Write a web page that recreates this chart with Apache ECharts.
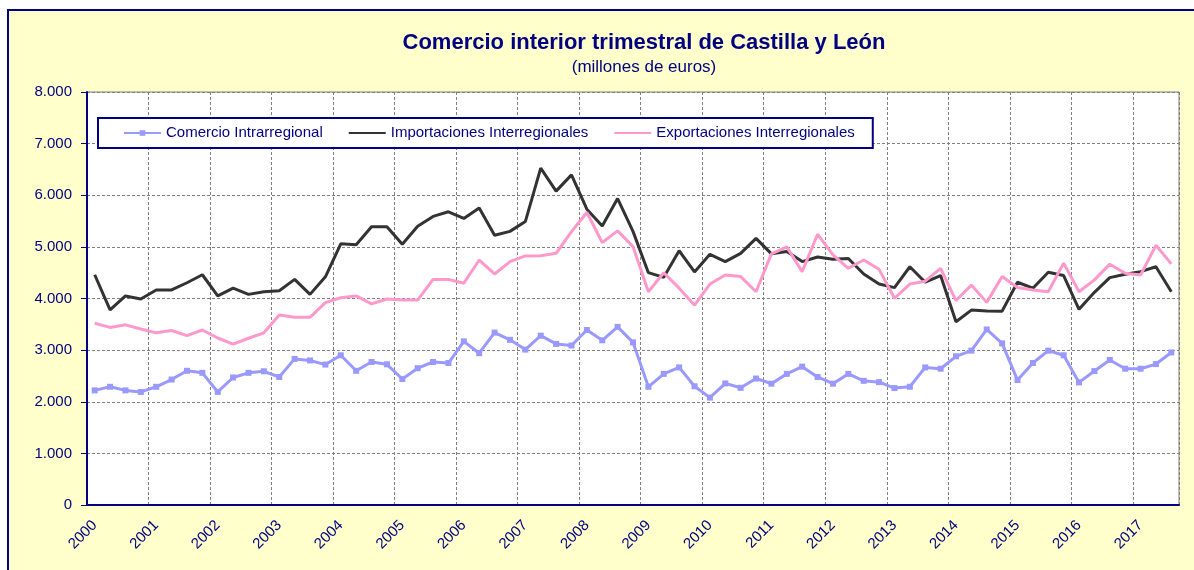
<!DOCTYPE html>
<html>
<head>
	<meta charset="utf-8"/>
	<title>Comercio interior trimestral de Castilla y León</title>
	<script src="https://cdn.jsdelivr.net/npm/echarts/dist/echarts.min.js"></script>
	<style>
		html, body { margin: 0; padding: 0; background: #fff; }
		#grafico { width: 1194px; height: 570px; }
	</style>
</head>
<body>
<div id="grafico"></div>
<script type="text/javascript">
    // años y trimestres del eje X (2000 T1 .. 2017 T3)
    var anios = ['2000','2001','2002','2003','2004','2005','2006','2007','2008',
                 '2009','2010','2011','2012','2013','2014','2015','2016','2017'];
    var trimestres = ['T1','T2','T3','T4'];
    var numTrimestres = 71;

    // millones de euros
    var comercioIntrarregional = [
        2220, 2290, 2220, 2190,
        2290, 2430, 2600, 2560,
        2190, 2470, 2560, 2590,
        2480, 2830, 2800, 2720,
        2900, 2600, 2770, 2725,
        2440, 2650, 2770, 2750,
        3170, 2940, 3340, 3200,
        3010, 3280, 3120, 3090,
        3390, 3190, 3450, 3150,
        2290, 2540, 2665, 2300,
        2080, 2355, 2270, 2450,
        2350, 2540, 2680, 2480,
        2350, 2540, 2405, 2380,
        2265, 2290, 2665, 2640,
        2880, 2990, 3400, 3130,
        2420, 2750, 2990, 2900,
        2375, 2595, 2810, 2640,
        2640, 2730, 2955
    ];
    var importacionesInterregionales = [
        4460, 3780, 4050, 3990,
        4165, 4165, 4305, 4460,
        4050, 4200, 4080, 4130,
        4150, 4370, 4080, 4420,
        5060, 5040, 5390, 5390,
        5050, 5400, 5590, 5680,
        5550, 5755, 5225, 5300,
        5490, 6525, 6080, 6395,
        5730, 5405, 5935, 5300,
        4500, 4410, 4925, 4515,
        4855, 4715, 4875, 5165,
        4865, 4910, 4715, 4805,
        4760, 4775, 4475, 4280,
        4210, 4615, 4315, 4445,
        3550, 3775, 3760, 3755,
        4315, 4200, 4510, 4445,
        3790, 4120, 4405, 4470,
        4520, 4615, 4130
    ];
    var exportacionesInterregionales = [
        3520, 3440, 3490, 3410,
        3335, 3380, 3280, 3390,
        3235, 3115, 3230, 3335,
        3680, 3635, 3635, 3920,
        4015, 4050, 3895, 3990,
        3970, 3970, 4370, 4370,
        4295, 4745, 4475, 4715,
        4825, 4830, 4875, 5295,
        5665, 5085, 5310, 5005,
        4130, 4500, 4200, 3870,
        4280, 4455, 4425, 4130,
        4865, 5000, 4520, 5245,
        4845, 4585, 4745, 4565,
        4005, 4280, 4335, 4585,
        3960, 4260, 3925, 4425,
        4215, 4165, 4130, 4685,
        4130, 4360, 4665, 4490,
        4455, 5030, 4670
    ];

    var categorias = [];
    for (var a = 0; a < anios.length; a++) {
        for (var t = 0; t < trimestres.length; t++) {
            if (categorias.length < numTrimestres) {
                categorias.push(anios[a] + ' ' + trimestres[t]);
            }
        }
    }

    var azulOscuro = '#000080';
    var fuente = '"Liberation Sans", Arial, sans-serif';

    // separador de miles con punto: 8.000
    function miles(v) {
        if (v === 0) return '0';
        var s = String(v);
        return s.slice(0, s.length - 3) + '.' + s.slice(s.length - 3);
    }

    // en la leyenda las series sin marcador solo llevan la linea
    var sinMarcador = { color: 'rgba(0,0,0,0)', borderWidth: 0, opacity: 0 };

    var dom = document.getElementById("grafico");
    var myChart = echarts.init(dom);
    var option = null;
    option = {
        animation: false,
        backgroundColor: '#ffffff',
        textStyle: { fontFamily: fuente },
        graphic: [
            {
                type: 'rect', z: -10, silent: true,
                shape: { x: 8, y: 10, width: 1200, height: 580 },
                style: { fill: '#FFFFCC', stroke: azulOscuro, lineWidth: 2 }
            },
            {
                type: 'text', x: 644, y: 43, silent: true,
                style: {
                    text: 'Comercio interior trimestral de Castilla y León',
                    fill: azulOscuro, fontFamily: fuente, fontSize: 22, fontWeight: 'bold',
                    align: 'center', verticalAlign: 'middle'
                }
            },
            {
                type: 'text', x: 644, y: 67, silent: true,
                style: {
                    text: '(millones de euros)',
                    fill: azulOscuro, fontFamily: fuente, fontSize: 17,
                    align: 'center', verticalAlign: 'middle'
                }
            }
        ],
        legend: {
            left: 98,
            top: 118,
            padding: [7, 18, 7, 25],
            itemWidth: 37,
            itemHeight: 7,
            itemGap: 25,
            backgroundColor: '#ffffff',
            borderColor: azulOscuro,
            borderWidth: 2,
            borderRadius: 0,
            textStyle: { color: azulOscuro, fontSize: 15, fontFamily: fuente, lineHeight: 16 },
            data: [
                { name: 'Comercio Intrarregional' },
                { name: 'Importaciones Interregionales', itemStyle: sinMarcador },
                { name: 'Exportaciones Interregionales', itemStyle: sinMarcador }
            ]
        },
        grid: {
            left: 87,
            top: 92,
            width: 1092,
            height: 413,
            show: true,
            backgroundColor: '#ffffff',
            borderColor: '#808080',
            borderWidth: 1
        },
        xAxis: {
            type: 'category',
            boundaryGap: true,
            data: categorias,
            axisLine: { lineStyle: { color: azulOscuro, width: 2 } },
            axisTick: { interval: 3, length: 5, lineStyle: { color: azulOscuro, width: 1 } },
            axisLabel: {
                interval: 3,
                rotate: 45,
                margin: 18,
                color: azulOscuro,
                fontSize: 15,
                fontFamily: fuente,
                formatter: function (v) { return v.slice(0, 4); }
            },
            splitLine: {
                show: true,
                interval: 3,
                lineStyle: { color: '#808080', width: 1, type: [3, 2] }
            }
        },
        yAxis: {
            type: 'value',
            min: 0,
            max: 8000,
            interval: 1000,
            axisLine: { show: true, lineStyle: { color: azulOscuro, width: 2 } },
            axisTick: { show: true, length: 6, lineStyle: { color: azulOscuro, width: 1 } },
            axisLabel: {
                margin: 15,
                color: azulOscuro,
                fontSize: 15,
                fontFamily: fuente,
                formatter: miles
            },
            splitLine: {
                show: true,
                lineStyle: { color: '#808080', width: 1, type: [3, 2] }
            }
        },
        series: [
            {
                name: 'Comercio Intrarregional',
                type: 'line',
                data: comercioIntrarregional,
                symbol: 'rect',
                symbolSize: 6,
                showSymbol: true,
                color: '#9999FF',
                lineStyle: { color: '#9999FF', width: 3 },
                itemStyle: { color: '#9999FF' }
            },
            {
                name: 'Importaciones Interregionales',
                type: 'line',
                data: importacionesInterregionales,
                symbol: 'none',
                color: '#333333',
                lineStyle: { color: '#333333', width: 3 }
            },
            {
                name: 'Exportaciones Interregionales',
                type: 'line',
                data: exportacionesInterregionales,
                symbol: 'none',
                color: '#FF99CC',
                lineStyle: { color: '#FF99CC', width: 3 }
            }
        ]
    };
    if (option && typeof option === "object") {
        myChart.setOption(option, true);
    }
</script>
</body>
</html>
